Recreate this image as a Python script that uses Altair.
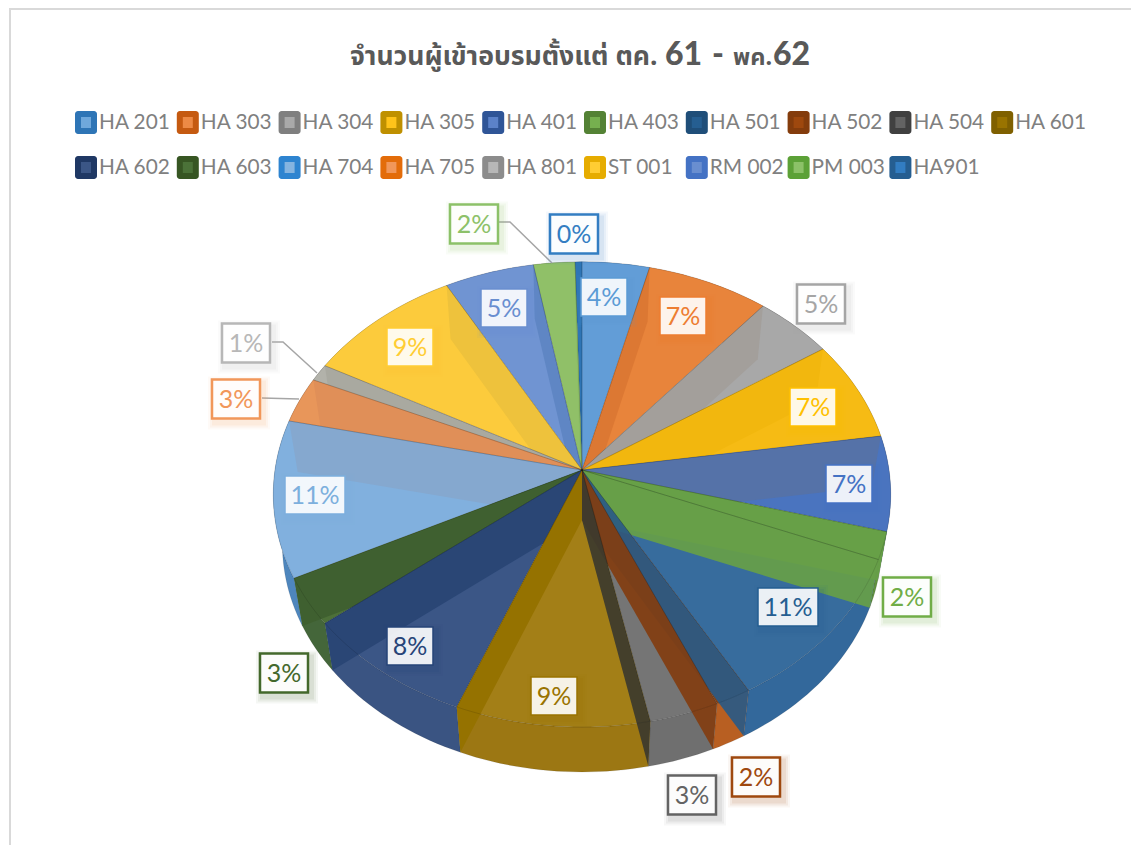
import math
import altair as alt
import pandas as pd

# ---------- data ----------
names = ["HA 201","HA 303","HA 304","HA 305","HA 401","HA 403","HA 501","HA 502","HA 504","HA 601",
         "HA 602","HA 603","HA 704","HA 705","HA 801","ST 001","RM 002","PM 003","HA901"]
shares = [3.9,7.1,4.6,7.0,6.6,1.9,10.7,1.7,3.3,9.2,8.3,3.3,10.9,3.2,1.2,9.1,5.2,2.4,0.4]
labels = ["4%","7%","5%","7%","7%","2%","11%","2%","3%","9%","8%","3%","11%","3%","1%","9%","5%","2%","0%"]

# ---------- styling ----------
top_col = ["#629dd7","#e8843b","#a8a8a8","#f6bb14","#4a74bf","#689f48","#376c9d","#8a4010","#757575","#a37f17",
           "#3b5686","#4d7039","#81b0de","#e8965a","#b2b2aa","#fccb3c","#7094d2","#90c068","#2e75b6"]
wall_col = ["#4f8fc9","#dc7833","#a39f9b","#f2b70e","#5572a8","#67a048","#2a5a86","#823d10","#3c3a2e","#957200",
            "#2a4675","#3f6030","#85a8cf","#e08f58","#a9a9a0","#eec23c","#5f86c4","#8bbd65","#2e75b6"]
side_col = ["#4f8fc9","#dc7833","#8a8a8a","#efb510","#3f69b3","#5f9040","#33689b","#b85f22","#6f6f6f","#9c7713",
            "#3a5482","#44663a","#4e86bd","#e08f58","#a9a9a0","#eec23c","#5f86c4","#8bbd65","#2e75b6"]
legend_out = ["#2e75b6","#c55a11","#7f7f7f","#bf9000","#2f5597","#548235","#1f4e79","#843c0c","#404040","#7f6000",
              "#1f3864","#375623","#2e84d0","#e36c0a","#8c8c8c","#e6ac00","#4472c4","#5ca137","#255e91"]
legend_in = ["#6fa8dc","#ed8a45","#a9a9a9","#ffc31a","#5b82c9","#76b04f","#255e91","#9e480e","#636363","#997300",
             "#3b5686","#4b7238","#85b4e0","#f1975a","#b7b7b7","#ffcd33","#698ed0","#8cc168","#327dc2"]
border_col = ["#5b9bd5","#ed7d31","#a5a5a5","#ffc000","#4472c4","#70ad47","#255e91","#9e480e","#636363","#997300",
              "#264478","#43682b","#7cafdd","#f1975a","#b7b7b7","#ffcd33","#698ed0","#8cc168","#327dc2"]
label_xy = [(604,298),(683,317),(821,305),(813,408),(849,485),(907,598),(788,608),(756,778),(692,796),(554,697),
            (410,647),(284,674),(315,496),(236,400),(246,344),(410,348),(504,309),(474,225),(574,235)]
outside = {2,5,7,8,11,13,14,17,18}
leaders = [[(272,342),(283,342),(317,373)],[(262,398),(299,399)],[(499,222),(510,222),(552,263)]]

W, H = 1123, 837
FONT = "Lato"
TOP = dict(cx=582, cy=470, a=307, b=230, k=0.105)
BOT = dict(cx=582, cy=520, a=298, b=225.5, k=0.105)


def pt(g, deg):
    t = math.radians(deg)
    u, v = math.sin(t), math.cos(t)
    w = 1 + g["k"] * v
    return [g["cx"] + g["a"] * u / w - 8, g["cy"] - g["b"] * v / w - 8]


def poly(points, color):
    pts = [list(p) for p in points] + [list(points[0])]
    return {"type": "Feature", "properties": {"c": color},
            "geometry": {"type": "Polygon", "coordinates": [pts]}}


edges = [0.0]
for s in shares:
    edges.append(edges[-1] + s)
ang = [e / edges[-1] * 360 for e in edges]


def arc(g, a0, a1):
    n = max(2, int((a1 - a0) / 1.5) + 2)
    return [pt(g, a0 + (a1 - a0) * i / (n - 1)) for i in range(n)]


c_top = [TOP["cx"] - 8, TOP["cy"] - 8]
c_bot = [BOT["cx"] - 8, BOT["cy"] - 8]
n_sl = len(shares)


def top_f(i):
    return poly([c_top] + arc(TOP, ang[i], ang[i + 1]), top_col[i])


def wall_f(th, i):
    return poly([c_top, pt(TOP, th), pt(BOT, th), c_bot], wall_col[i])


side_feats = [poly(arc(TOP, ang[i], ang[i + 1]) + arc(BOT, ang[i], ang[i + 1])[::-1], side_col[i]) for i in range(n_sl)]

# painter's order: each later face hides what falls outside the slice before it
face_feats = []
for i in range(0, 9):
    face_feats.append(top_f(i))
    if 1 <= i <= 4:
        face_feats.append(wall_f(ang[i], i))
for i in range(n_sl - 1, 8, -1):
    face_feats.append(top_f(i))
    face_feats.append(wall_f(ang[i + 1], i))
# cuts on the near right side show through the neighbouring slices
cut_feats = [wall_f(ang[5], 5)] + [wall_f(ang[i + 1], i) for i in range(5, 9)]
rim_feats = [top_f(i) for i in range(n_sl)]
for f in rim_feats:
    f["properties"]["c"] = "transparent"


def shapes(feats, **mk):
    return alt.Chart(alt.Data(values=feats)).mark_geoshape(**mk).encode(
        color=alt.Color("properties.c:N", scale=None, legend=None)).project(
        type="identity", scale=1, translate=[0, 0])


xs = alt.Scale(domain=[0, W], range=[0, W])
ys = alt.Scale(domain=[0, H], range=[0, H])
X = alt.X("x:Q", scale=xs, axis=None)
Y = alt.Y("y:Q", scale=ys, axis=None)
X1 = alt.X("x1:Q", scale=xs, axis=None)
X2 = alt.X2("x2:Q")
Y1 = alt.Y("y1:Q", scale=ys, axis=None)
Y2 = alt.Y2("y2:Q")

# frame
frame_v = alt.Chart(pd.DataFrame({"x": [2], "y1": [0], "y2": [H]})).mark_rule(color="#d9d9d9", strokeWidth=2).encode(
    x=X, y=Y1, y2=Y2)
frame_h = alt.Chart(pd.DataFrame({"x1": [2], "x2": [W], "y": [1]})).mark_rule(color="#d9d9d9", strokeWidth=2).encode(
    x=X1, x2=X2, y=Y)

# title
THAI = "Noto Sans, Noto Sans Thai, DejaVu Sans"
title_parts = [("จำนวนผู้เข้าอบรมตั้งแต่ ตค.", 350, 26.6, THAI, 700), ("61", 665, 32, FONT, 900), ("-", 712, 32, FONT, 900),
               ("พค.", 733, 23.6, THAI, 700), ("62", 773, 32, FONT, 900)]
title_layers = []
for s, xp, fs, fnt, wt in title_parts:
    title_layers.append(alt.Chart(pd.DataFrame({"x": [xp - 8], "y": [65 - 8], "t": [s]})).mark_text(
        align="left", baseline="alphabetic", fontSize=fs, fontWeight=wt, font=fnt, color="#595959").encode(
        x=X, y=Y, text="t:N"))

# legend
rows = []
for i, n in enumerate(names):
    r = 0 if i < 10 else 1
    col = i if r == 0 else i - 10
    sx = 75 + col * 101.8
    sy = 122.5 if r == 0 else 167.5
    rows.append(dict(name=n, tx=sx + 24 - 8, ty=sy - 8,
                     x1=sx - 8, x2=sx + 22 - 8, y1=sy - 11.5 - 8, y2=sy + 11.5 - 8,
                     ix1=sx + 6 - 8, ix2=sx + 16 - 8, iy1=sy - 5.5 - 8, iy2=sy + 5.5 - 8,
                     o=legend_out[i], inn=legend_in[i]))
leg = pd.DataFrame(rows)
leg_out = alt.Chart(leg).mark_rect(cornerRadius=3).encode(
    x=X1, x2=X2, y=Y1, y2=Y2, color=alt.Color("o:N", scale=None, legend=None))
leg_in = alt.Chart(leg).mark_rect().encode(
    x=alt.X("ix1:Q", scale=xs, axis=None), x2=alt.X2("ix2:Q"),
    y=alt.Y("iy1:Q", scale=ys, axis=None), y2=alt.Y2("iy2:Q"),
    color=alt.Color("inn:N", scale=None, legend=None))
leg_txt = alt.Chart(leg).mark_text(align="left", baseline="middle", font=FONT, fontSize=20.8, color="#808080").encode(
    x=alt.X("tx:Q", scale=xs, axis=None), y=alt.Y("ty:Q", scale=ys, axis=None), text="name:N")

# leader lines
ld = []
for k, line in enumerate(leaders):
    for o, (a, b) in enumerate(line):
        ld.append(dict(x=a - 8, y=b - 8, k=k, o=o))
lead = alt.Chart(pd.DataFrame(ld)).mark_line(color="#a6a6a6", strokeWidth=1.5).encode(
    x=X, y=Y, detail="k:N", order="o:Q")

# data labels
lb = []
for i, (cx, cy) in enumerate(label_xy):
    cy0 = cy - 1
    hw, hh = (24, 19.5) if i in outside else (23, 19)
    if labels[i] == "11%":
        hw = 30
    lb.append(dict(t=labels[i], x=cx - 8, y=cy - 8, x1=cx - hw - 8, x2=cx + hw - 8, y1=cy0 - hh - 8, y2=cy0 + hh - 8,
                   c=border_col[i], sw=2.5 if i in outside else 1.5))
lbd = pd.DataFrame(lb)
shadow_layers = []
for grow, op in [(7, 0.05), (5, 0.07), (3, 0.09)]:
    d = lbd.copy()
    d["x1"] += 3 - grow
    d["x2"] += 3 + grow
    d["y1"] += 4 - grow
    d["y2"] += 4 + grow
    shadow_layers.append(alt.Chart(d).mark_rect(opacity=op).encode(
        x=X1, x2=X2, y=Y1, y2=Y2, color=alt.Color("c:N", scale=None, legend=None)))
box = alt.Chart(lbd).mark_rect(fill="white", fillOpacity=0.9).encode(
    x=X1, x2=X2, y=Y1, y2=Y2,
    stroke=alt.Stroke("c:N", scale=None, legend=None),
    strokeWidth=alt.StrokeWidth("sw:Q", scale=None, legend=None))
lab_txt = alt.Chart(lbd).mark_text(align="center", baseline="middle", font=FONT, fontSize=25).encode(
    x=X, y=Y, text="t:N", color=alt.Color("c:N", scale=None, legend=None))

chart = alt.layer(
    frame_v, frame_h, *title_layers, leg_out, leg_in, leg_txt,
    shapes(side_feats, stroke="#00000030", strokeWidth=0.5),
    shapes(face_feats),
    shapes(cut_feats, opacity=0.92),
    shapes(rim_feats, fillOpacity=0, stroke="#00000033", strokeWidth=0.6),
    lead, *shadow_layers, box, lab_txt,
).properties(width=W, height=H, padding=0, autosize=alt.AutoSizeParams(type="none"),
             background="white").configure_view(stroke=None)

chart.save("out.html", embed_options={"renderer": "svg", "actions": False})
